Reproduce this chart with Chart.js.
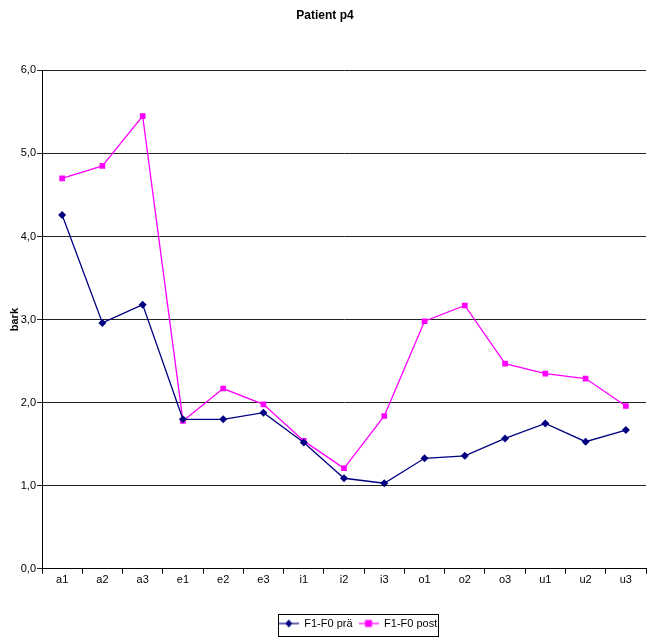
<!DOCTYPE html>
<html>
<head>
<meta charset="utf-8">
<script src="https://cdn.jsdelivr.net/npm/chart.js@4/dist/chart.umd.min.js"></script>
<style>
html,body{margin:0;padding:0;background:#fff;}
#wrap{width:650px;height:638px;}
</style>
</head>
<body>
<div id="wrap"><canvas id="c" width="650" height="638"></canvas></div>
<script>
const categories = ['a1','a2','a3','e1','e2','e3','i1','i2','i3','o1','o2','o3','u1','u2','u3'];
const seriesPrae = [4.26, 2.96, 3.18, 1.80, 1.80, 1.88, 1.52, 1.09, 1.03, 1.33, 1.36, 1.57, 1.75, 1.53, 1.67];
const seriesPost = [4.70, 4.85, 5.45, 1.78, 2.17, 1.98, 1.54, 1.21, 1.84, 2.98, 3.17, 2.47, 2.35, 2.29, 1.96];
const seriesNames = ['F1-F0 prä', 'F1-F0 post'];
const yTicks = [0, 1, 2, 3, 4, 5, 6];

const FONT = '"Liberation Sans Narrow", "Liberation Sans", Arial, sans-serif';
const NAVY = '#000080';
const MAGENTA = '#FF00FF';

function legendIcon(color, style) {
  const cv = document.createElement('canvas');
  cv.width = 20; cv.height = 10;
  const g = cv.getContext('2d');
  g.strokeStyle = color; g.lineWidth = 1.2;
  g.beginPath(); g.moveTo(0, 5); g.lineTo(20, 5); g.stroke();
  g.fillStyle = color;
  if (style === 'diamond') {
    g.beginPath(); g.moveTo(10, 1); g.lineTo(13.5, 5); g.lineTo(10, 9); g.lineTo(6.5, 5); g.closePath(); g.fill();
  } else {
    g.fillRect(6.5, 1.5, 7, 7);
  }
  return cv;
}

const icons = [legendIcon(NAVY, 'diamond'), legendIcon(MAGENTA, 'square')];

const legendShift = {
  id: 'legendShift',
  afterLayout(chart) {
    const lg = chart.legend;
    if (!lg) return;
    lg.left += 33; lg.right += 33;
    lg.top += 2; lg.bottom += 2;
  },
  afterDraw(chart) {
    const lg = chart.legend;
    if (!lg || !lg.lineWidths || !lg.lineWidths.length) return;
    const w = lg.lineWidths[0];
    const cx = (lg.left + lg.right) / 2;
    const x0 = Math.round(cx - w / 2 + 2) + 0.5;
    const x1 = Math.round(cx + w / 2 - 2) + 0.5;
    const y0 = Math.round(lg.top + 2) + 0.5;
    const y1 = Math.min(Math.round(lg.bottom - 2), chart.height - 2) + 0.5;
    const ctx = chart.ctx;
    ctx.save();
    ctx.strokeStyle = '#000';
    ctx.lineWidth = 1;
    ctx.strokeRect(x0, y0, x1 - x0, y1 - y0);
    ctx.restore();
  }
};

new Chart(document.getElementById('c'), {
  type: 'line',
  data: {
    labels: categories,
    datasets: [
      {
        label: seriesNames[0], data: seriesPrae,
        borderColor: NAVY, backgroundColor: NAVY, borderWidth: 1.3,
        pointStyle: 'rectRot', pointRadius: 4, pointHoverRadius: 4,
        pointBorderWidth: 0, tension: 0, fill: false
      },
      {
        label: seriesNames[1], data: seriesPost,
        borderColor: MAGENTA, backgroundColor: MAGENTA, borderWidth: 1.3,
        pointStyle: 'rect', pointRadius: 4, pointHoverRadius: 4,
        pointBorderWidth: 0, tension: 0, fill: false
      }
    ]
  },
  options: {
    responsive: false,
    animation: false,
    devicePixelRatio: 1,
    layout: { padding: { left: 0, right: 0, top: 0, bottom: 1 } },
    plugins: {
      title: {
        display: true, text: 'Patient p4', color: '#000',
        font: { family: FONT, size: 12, weight: 'bold' },
        padding: { top: 8, bottom: 48 }
      },
      legend: {
        display: true, position: 'bottom',
        labels: {
          color: '#000',
          font: { family: FONT, size: 11 },
          usePointStyle: true, pointStyleWidth: 20, boxHeight: 10,
          padding: 6,
          generateLabels(chart) {
            return chart.data.datasets.map((ds, i) => ({
              text: ds.label, pointStyle: icons[i], fillStyle: ds.borderColor,
              strokeStyle: ds.borderColor, lineWidth: 0, hidden: false, datasetIndex: i,
              fontColor: '#000'
            }));
          }
        }
      },
      tooltip: { enabled: false }
    },
    scales: {
      x: {
        type: 'category', offset: true,
        afterFit(scale) { scale.height += 23; },
        grid: { display: true, offset: true, drawOnChartArea: false, drawTicks: true, tickLength: 5, color: '#000' },
        border: { display: true, color: '#000', width: 1 },
        ticks: { color: '#000', font: { family: FONT, size: 11 }, padding: 0, maxRotation: 0, autoSkip: false }
      },
      y: {
        min: 0, max: 6,
        afterFit(scale) { scale.width = 42; },
        afterBuildTicks(scale) { scale.ticks = yTicks.map(v => ({ value: v })); },
        title: {
          display: true, text: 'bark', color: '#000',
          font: { family: FONT, size: 11, weight: 'bold' },
          padding: { top: 8, bottom: 0 }
        },
        grid: { color: '#222', lineWidth: 1, tickLength: 5, drawTicks: true },
        border: { display: true, color: '#000', width: 1 },
        ticks: {
          color: '#000', font: { family: FONT, size: 11 }, padding: 1,
          callback: v => v.toFixed(1).replace('.', ',')
        }
      }
    }
  },
  plugins: [legendShift]
});
</script>
</body>
</html>
